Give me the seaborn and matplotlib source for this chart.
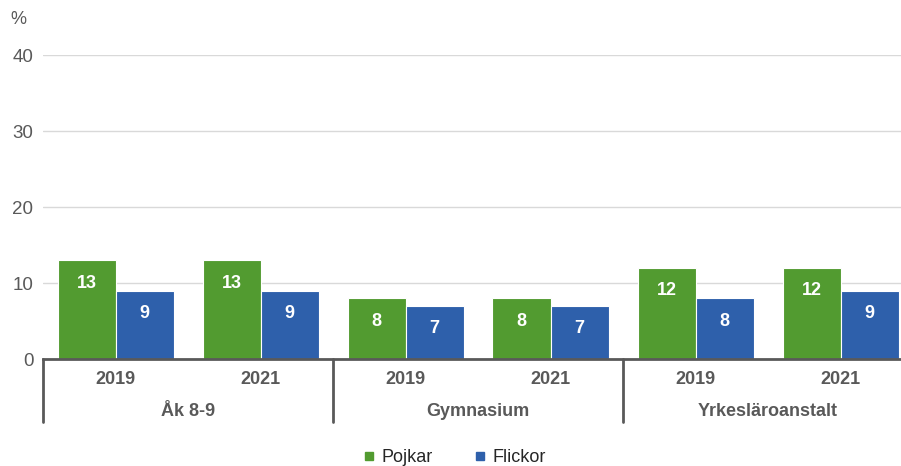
import matplotlib
matplotlib.use("Agg")
import matplotlib.pyplot as plt
import matplotlib.transforms as mtransforms
from matplotlib.lines import Line2D
import seaborn as sns
import pandas as pd

# Data
groups = ["Åk 8-9", "Gymnasium", "Yrkesläroanstalt"]
years = ["2019", "2021"]
pojkar = [13, 13, 8, 8, 12, 12]
flickor = [9, 9, 7, 7, 8, 9]
series = ["Pojkar", "Flickor"]
colors = {"Pojkar": "#529B30", "Flickor": "#2E60AB"}

keys = [g + " " + y for g in groups for y in years]
df = pd.DataFrame({
    "key": keys * 2,
    "value": pojkar + flickor,
    "kön": ["Pojkar"] * len(keys) + ["Flickor"] * len(keys),
})

sns.set_style("white")
plt.rcParams["font.family"] = ["Liberation Sans", "DejaVu Sans"]

fig = plt.figure(figsize=(9.01, 4.66), dpi=100)
ax = fig.add_axes([43 / 901, 1 - 359 / 466, 870 / 901, 304 / 466])

sns.barplot(data=df, x="key", y="value", hue="kön", order=keys, hue_order=series,
            palette=colors, width=0.8, saturation=1, legend=False, ax=ax)

for cont in ax.containers:
    for bar in cont:
        bar.set_edgecolor("white")
        bar.set_linewidth(0.8)
        h = bar.get_height()
        ax.annotate(f"{h:.0f}", (bar.get_x() + bar.get_width() / 2, h),
                    xytext=(0, -23), textcoords="offset pixels",
                    ha="center", va="center", color="white",
                    fontsize=13, fontweight="bold")

ax.set_ylim(0, 40)
ax.set_xlim(-0.5, len(keys) - 0.5)
ax.set_yticks([0, 10, 20, 30, 40])
ax.yaxis.grid(True, color="#d9d9d9", linewidth=1)
ax.set_axisbelow(True)
ax.tick_params(axis="y", length=0, pad=7, labelsize=13.5, labelcolor="#595959")
ax.tick_params(axis="x", length=0)
ax.set_xticklabels([])
ax.set_xlabel("")
ax.set_ylabel("")
for s in ["top", "right", "left"]:
    ax.spines[s].set_visible(False)
ax.spines["bottom"].set_color("#595959")
ax.spines["bottom"].set_linewidth(2)

trans = mtransforms.blended_transform_factory(ax.transData, ax.transAxes)
for i, k in enumerate(keys):
    ax.text(i, -0.069, k.split(" ")[-1], transform=trans, ha="center", va="center",
            fontsize=13, fontweight="bold", color="#595959")
for j, g in enumerate(groups):
    ax.text(2 * j + 0.5, -0.174, g, transform=trans, ha="center", va="center",
            fontsize=13, fontweight="bold", color="#595959")
for xs in [-0.5, 1.5, 3.5, 5.5]:
    ax.plot([xs, xs], [0, -0.207], transform=trans, color="#595959",
            linewidth=2, clip_on=False)

fig.text(18 / 901, 1 - 20 / 466, "%", ha="center", va="center",
         fontsize=13, color="#595959")

handles = [Line2D([0], [0], marker="s", linestyle="", markersize=6,
                  markerfacecolor=colors[s], markeredgecolor=colors[s]) for s in series]
fig.legend(handles, series, loc="center", bbox_to_anchor=(0.505, 1 - 458 / 466),
           ncol=2, frameon=False, fontsize=13, handlelength=0.6,
           handletextpad=0.4, columnspacing=2.3)

fig.savefig("out.png", dpi=100)
